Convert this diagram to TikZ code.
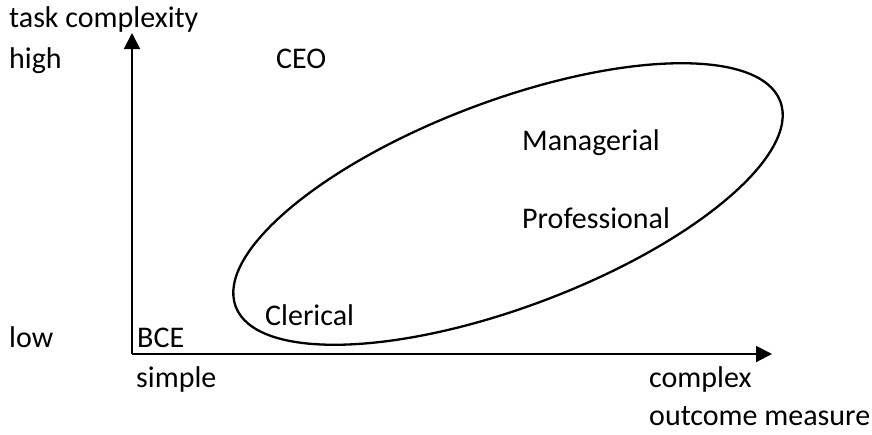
\documentclass[tikz,border=0pt]{standalone}
\usepackage{fontspec}
\setmainfont{Carlito}
\usetikzlibrary{arrows.meta}
\begin{document}
\begin{tikzpicture}[x=1pt,y=1pt,
  lbl/.style={anchor=base west,inner sep=0pt,font=\fontsize{30}{35}\selectfont},
  axis/.style={line width=2pt,-{Triangle[length=16pt,width=16pt]}},
  band/.style={line width=2.3pt}]
\useasboundingbox (0,0) rectangle (872,-434);

% axes
\coordinate (origin) at (132,-354);
\coordinate (ytip) at (132,-33);
\coordinate (xtip) at (772,-354);
\draw[axis] (origin) -- (ytip);
\draw[axis] (origin) -- (xtip);

% the band of occupations
\draw[band,rotate around={20.65:(508,-204)}] (508,-204) ellipse [x radius=291pt, y radius=103pt];

% axis labels
\node[lbl] (taskc) at (9,-27) {task complexity};
\node[lbl] (high) at (9,-68) {high};
\node[lbl] (low) at (9,-347) {low};
\node[lbl] (simple) at (136,-387) {simple};
\node[lbl] (complex) at (649,-387) {complex};
\node[lbl] (outcome) at (649,-425) {outcome measure};

% occupations
\node[lbl] (ceo) at (276,-68) {CEO};
\node[lbl] (bce) at (137,-347) {BCE};
\node[lbl] (clerical) at (265,-325) {Clerical};
\node[lbl] (managerial) at (522,-150) {Managerial};
\node[lbl] (professional) at (522,-228) {Professional};
\end{tikzpicture}
\end{document}
